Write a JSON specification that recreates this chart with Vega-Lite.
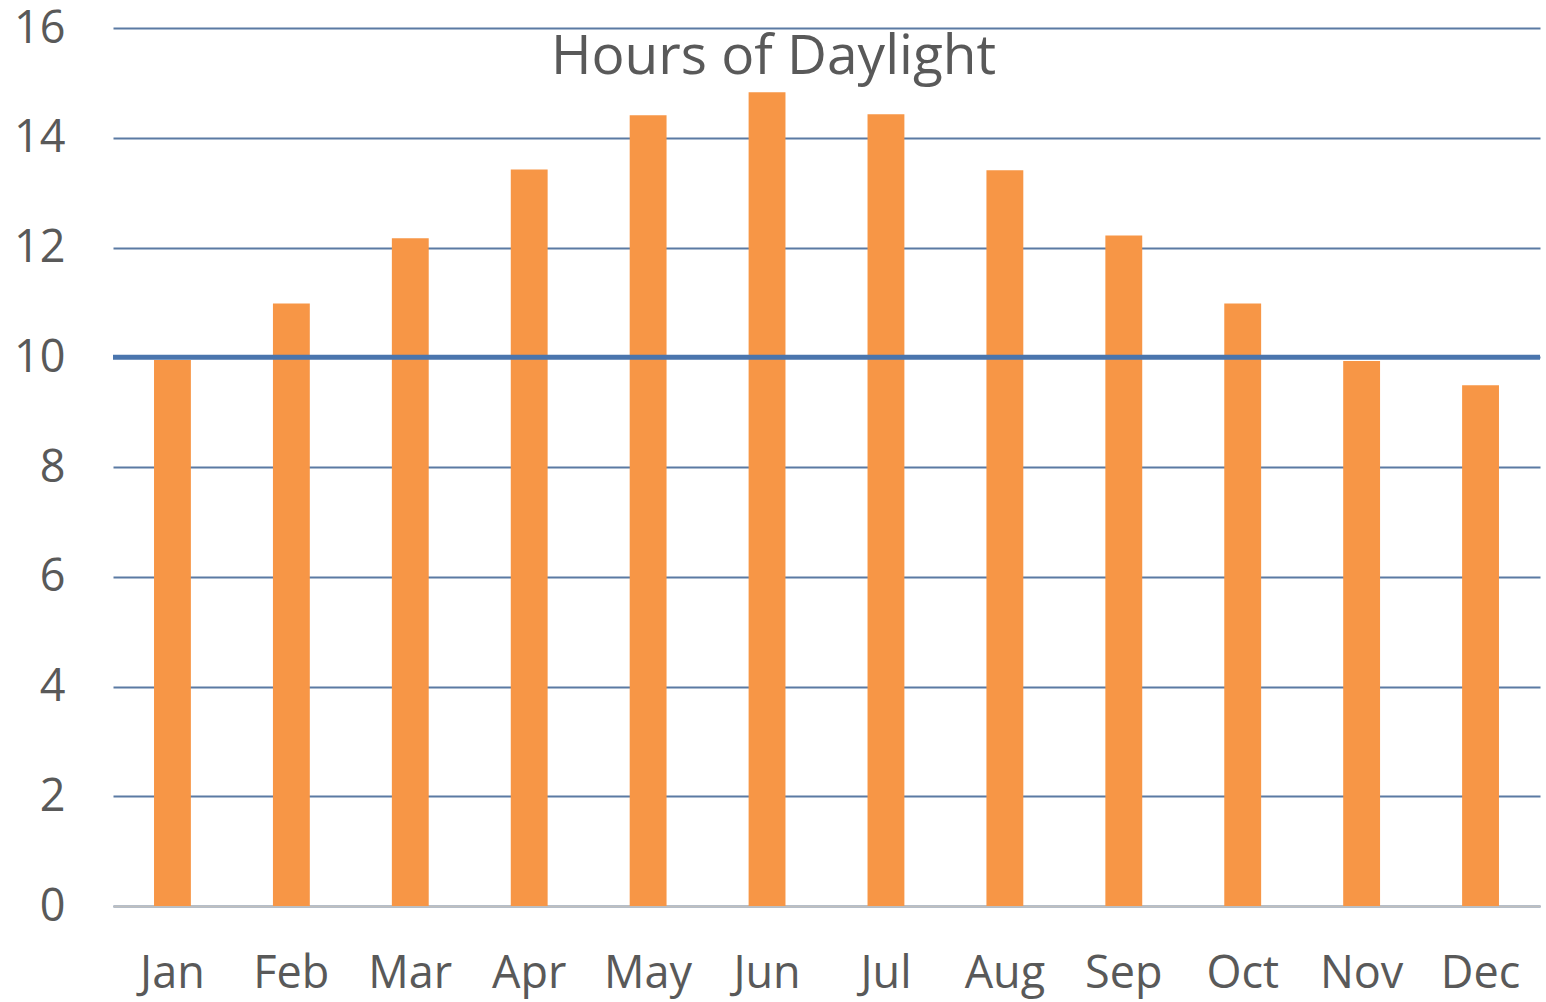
{
  "$schema": "https://vega.github.io/schema/vega-lite/v6.json",
  "width": 1427,
  "height": 878,
  "autosize": {"type": "none"},
  "padding": {"left": 113, "top": 28, "right": 6, "bottom": 96},
  "background": "white",
  "title": {
    "text": "Hours of Daylight",
    "font": "Open Sans",
    "fontSize": 55,
    "fontWeight": "normal",
    "color": "#595959",
    "anchor": "middle",
    "frame": "group",
    "baseline": "alphabetic",
    "offset": -123,
    "dx": -53
  },
  "config": {
    "view": {"stroke": null},
    "font": "Open Sans"
  },
  "datasets": {
    "months": [
      {"month": "Jan", "hours": 9.95},
      {"month": "Feb", "hours": 10.98},
      {"month": "Mar", "hours": 12.17},
      {"month": "Apr", "hours": 13.42},
      {"month": "May", "hours": 14.41},
      {"month": "Jun", "hours": 14.83},
      {"month": "Jul", "hours": 14.43},
      {"month": "Aug", "hours": 13.41},
      {"month": "Sep", "hours": 12.22},
      {"month": "Oct", "hours": 10.98},
      {"month": "Nov", "hours": 9.93},
      {"month": "Dec", "hours": 9.49}
    ],
    "threshold": [{"level": 10}]
  },
  "layer": [
    {
      "data": {"name": "months"},
      "mark": {"type": "bar", "color": "#f79646"},
      "encoding": {
        "x": {
          "field": "month",
          "type": "nominal",
          "sort": null,
          "scale": {"paddingInner": 0.69, "paddingOuter": 0.345},
          "axis": {
            "title": null,
            "labelAngle": 0,
            "labelFont": "Open Sans",
            "labelFontSize": 45,
            "labelColor": "#595959",
            "labelPadding": 45,
            "ticks": false,
            "domainColor": "#bfbfbf",
            "domainWidth": 2,
            "grid": false
          }
        },
        "y": {
          "field": "hours",
          "type": "quantitative",
          "scale": {"domain": [0, 16], "nice": false},
          "axis": {
            "title": null,
            "values": [0, 2, 4, 6, 8, 10, 12, 14, 16],
            "labelFont": "Open Sans",
            "labelFontSize": 45,
            "labelColor": "#595959",
            "labelPadding": 48,
            "ticks": false,
            "domain": false,
            "grid": true,
            "gridColor": "#5b7aa3",
            "gridWidth": 2,
            "zindex": 0
          }
        }
      }
    },
    {
      "data": {"name": "threshold"},
      "mark": {"type": "rule", "color": "#4a75ad", "strokeWidth": 5},
      "encoding": {
        "y": {"field": "level", "type": "quantitative"}
      }
    }
  ]
}
